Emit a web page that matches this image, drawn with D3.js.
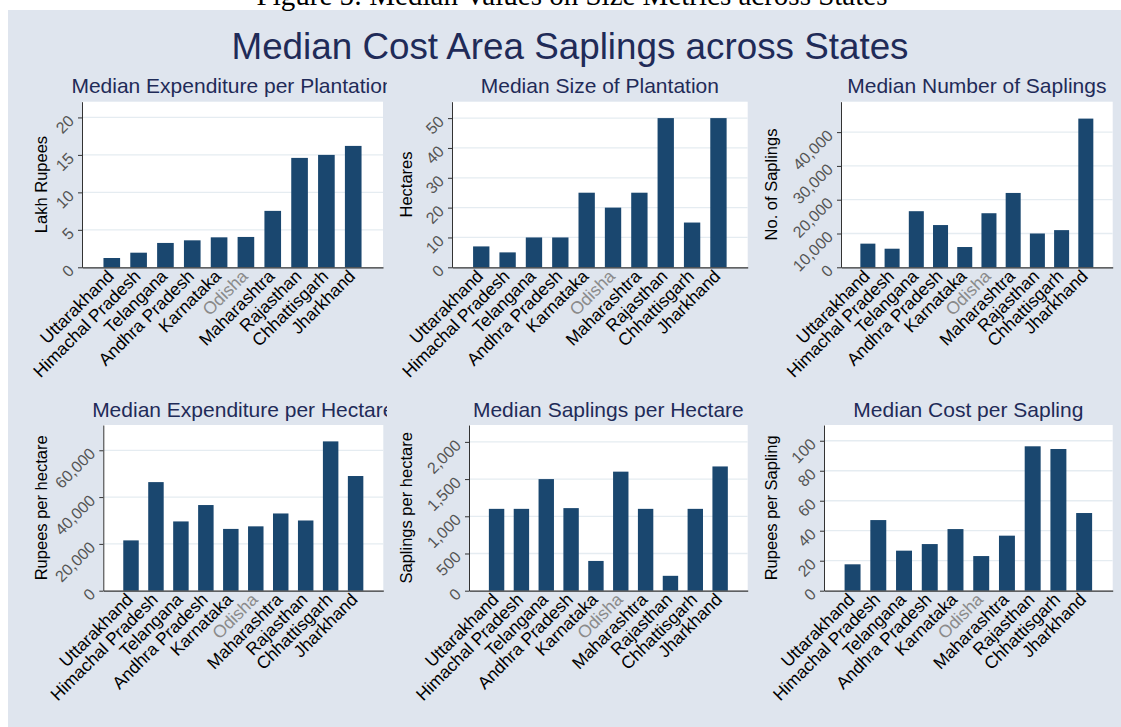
<!DOCTYPE html>
<html>
<head>
<meta charset="utf-8">
<script src="https://cdn.jsdelivr.net/npm/d3@7"></script>
<style>
  body { margin: 0; background: #fff; }
  text { font-family: "Liberation Sans", Arial, sans-serif; }
</style>
</head>
<body>
<script>
var width = 1121;
var height = 727;

// data
var states = ["Uttarakhand", "Himachal Pradesh", "Telangana", "Andhra Pradesh", "Karnataka",
  "Odisha", "Maharashtra", "Rajasthan", "Chhattisgarh", "Jharkhand"];

var expPerPlantation = [1.24, 1.95, 3.25, 3.6, 4.0, 4.05, 7.53, 14.6, 15.0, 16.2];
var sizeOfPlantation = [7, 5, 10, 10, 25, 20, 25, 50, 15, 50];
var numberOfSaplings = [7000, 5500, 16600, 12500, 6000, 16000, 22000, 10000, 11000, 44000];
var expPerHectare = [21500, 46400, 29600, 36600, 26400, 27500, 33000, 30000, 63800, 49000];
var saplingsPerHectare = [1100, 1100, 1500, 1110, 400, 1600, 1100, 200, 1100, 1670];
var costPerSapling = [17.6, 47.1, 26.7, 31.1, 41.1, 23.1, 36.7, 96.3, 94.5, 51.8];

var ticks1 = [0, 5, 10, 15, 20];
var ticks2 = [0, 10, 20, 30, 40, 50];
var ticks3 = [0, 10000, 20000, 30000, 40000];
var ticks4 = [0, 20000, 40000, 60000];
var ticks5 = [0, 500, 1000, 1500, 2000];
var ticks6 = [0, 20, 40, 60, 80, 100];

var panelTitles = ["Median Expenditure per Plantation", "Median Size of Plantation", "Median Number of Saplings",
  "Median Expenditure per Hectare", "Median Saplings per Hectare", "Median Cost per Sapling"];
var yTitles = ["Lakh Rupees", "Hectares", "No. of Saplings",
  "Rupees per hectare", "Saplings per hectare", "Rupees per Sapling"];

var series = [expPerPlantation, sizeOfPlantation, numberOfSaplings, expPerHectare, saplingsPerHectare, costPerSapling];
var tickSets = [ticks1, ticks2, ticks3, ticks4, ticks5, ticks6];

// where each panel sits
var layout = [
  {x0: 82, x1: 383, y0: 101.7, y1: 267.3, labX: 41.7, yMax: 22.1, clip: [8, 387]},
  {x0: 452, x1: 747.7, y0: 101.7, y1: 267.3, labX: 406.7, yMax: 55.5, clip: [387, 752]},
  {x0: 841, x1: 1112.7, y0: 101.7, y1: 267.3, labX: 771.7, yMax: 49000, clip: [752, 1121]},
  {x0: 103.3, x1: 383.3, y0: 425, y1: 590.7, labX: 41.7, yMax: 70800, clip: [8, 387]},
  {x0: 469, x1: 747.7, y0: 425, y1: 590.7, labX: 406.7, yMax: 2227, clip: [387, 752]},
  {x0: 824, x1: 1112.7, y0: 425, y1: 590.7, labX: 771.7, yMax: 110.5, clip: [752, 1121]}
];

var bg = "#dfe5ee";
var navy = "#1a476f";
var titleColor = "#1f2b58";

var svg = d3.select("body").append("svg")
  .attr("width", width)
  .attr("height", height);

svg.append("rect")
  .attr("width", width)
  .attr("height", height)
  .attr("fill", "#fff");

svg.append("rect")
  .attr("x", 8)
  .attr("y", 10)
  .attr("width", width - 8)
  .attr("height", height - 10)
  .attr("fill", bg);

// page caption, mostly cut off at the top like the scan
svg.append("text")
  .attr("x", 572)
  .attr("y", 5)
  .attr("text-anchor", "middle")
  .style("font-family", "'Liberation Serif', 'Times New Roman', serif")
  .style("font-size", "29px")
  .attr("fill", "#000")
  .text("Figure 5: Median Values on Size Metrics across States");

svg.append("text")
  .attr("x", 570)
  .attr("y", 59)
  .attr("text-anchor", "middle")
  .style("font-size", "36.8px")
  .attr("fill", titleColor)
  .text("Median Cost Area Saplings across States");

var defs = svg.append("defs");
var fmt = d3.format(",");

layout.forEach(function(p, i) {
  var vals = series[i];
  var ticks = tickSets[i];

  var x = d3.scaleBand()
    .domain(states)
    .range([p.x0, p.x1])
    .paddingInner(0.38)
    .paddingOuter(0.8);

  var y = d3.scaleLinear()
    .domain([0, p.yMax])
    .range([p.y1, p.y0]);

  var g = svg.append("g");

  defs.append("clipPath")
    .attr("id", "clip" + i)
    .append("rect")
    .attr("x", p.clip[0])
    .attr("y", p.y0 - 40)
    .attr("width", p.clip[1] - p.clip[0])
    .attr("height", 40);

  // white plot region
  g.append("rect")
    .attr("x", p.x0)
    .attr("y", p.y0)
    .attr("width", p.x1 - p.x0)
    .attr("height", p.y1 - p.y0)
    .attr("fill", "#fff");

  // grid
  g.selectAll(".grid")
    .data(ticks.filter(function(t) { return t > 0; }))
    .enter().append("line")
    .attr("x1", p.x0)
    .attr("x2", p.x1)
    .attr("y1", function(t) { return y(t); })
    .attr("y2", function(t) { return y(t); })
    .attr("stroke", "#e5ecf1")
    .attr("stroke-width", 1.3);

  g.selectAll(".bar")
    .data(vals)
    .enter().append("rect")
    .attr("x", function(d, j) { return x(states[j]); })
    .attr("width", x.bandwidth())
    .attr("y", function(d) { return y(d); })
    .attr("height", function(d) { return y(0) - y(d); })
    .attr("fill", navy);

  // y axis
  var ya = g.append("g")
    .attr("transform", "translate(" + p.x0 + ",0)")
    .call(d3.axisLeft(y).tickValues(ticks).tickFormat(fmt).tickSize(4).tickSizeOuter(0));
  ya.select(".domain").attr("stroke", "#333");
  ya.selectAll(".tick line").attr("stroke", "#333");
  ya.selectAll(".tick text")
    .attr("x", null)
    .attr("dy", null)
    .attr("transform", "translate(-7,4) rotate(-45)")
    .attr("text-anchor", "end")
    .attr("fill", "#555")
    .style("font-size", "16px")
    .style("font-family", "'Liberation Sans', Arial, sans-serif");

  // x axis
  var xa = g.append("g")
    .attr("transform", "translate(0," + p.y1 + ")")
    .call(d3.axisBottom(x).tickSize(0).tickSizeOuter(0));
  xa.select(".domain").attr("stroke", "#333").attr("stroke-width", 1.2);
  xa.selectAll(".tick text")
    .attr("y", null)
    .attr("dy", null)
    .attr("transform", "translate(3,10) rotate(-45)")
    .attr("text-anchor", "end")
    .attr("fill", function(d) { return d == "Odisha" ? "#8a8a8a" : "#000"; })
    .style("font-size", "17.5px")
    .style("font-family", "'Liberation Sans', Arial, sans-serif");

  // axis title
  g.append("text")
    .attr("transform", "translate(" + p.labX + "," + ((p.y0 + p.y1) / 2) + ") rotate(-90)")
    .attr("dy", "0.35em")
    .attr("text-anchor", "middle")
    .style("font-size", "16.5px")
    .attr("fill", "#000")
    .text(yTitles[i]);

  // panel title, clipped like the original
  g.append("text")
    .attr("clip-path", "url(#clip" + i + ")")
    .attr("x", (p.x0 + p.x1) / 2)
    .attr("y", p.y0 - 8.4)
    .attr("text-anchor", "middle")
    .style("font-size", "21px")
    .attr("fill", titleColor)
    .text(panelTitles[i]);
});
</script>
</body>
</html>
